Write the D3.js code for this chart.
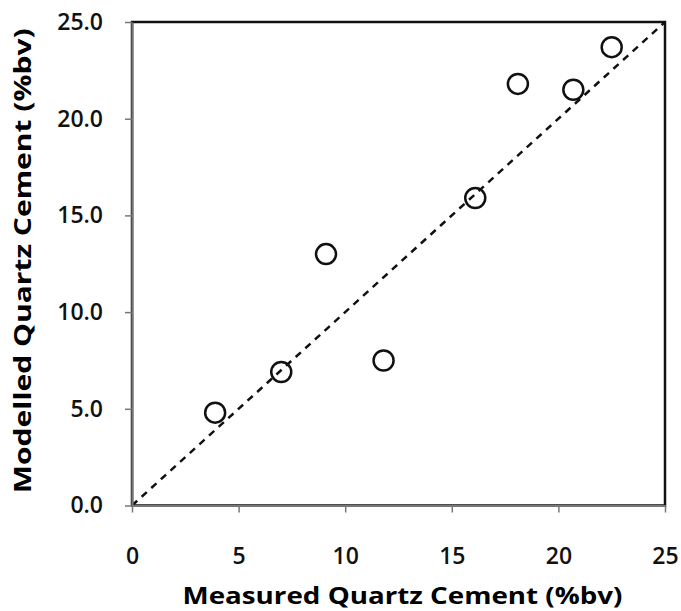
<!DOCTYPE html>
<html>
<head>
<meta charset="utf-8">
<script src="https://cdn.jsdelivr.net/npm/d3@7"></script>
<style>
  body { margin: 0; background: #fff; }
  svg { display: block; }
  .title { font-family: "Open Sans", sans-serif; font-weight: 700; font-size: 24px; fill: #000; }
</style>
</head>
<body>
<div id="chart"></div>
<script>
// measured vs modelled quartz cement, %bv
const measured = [3.9, 7.0, 9.1, 11.8, 16.1, 18.1, 20.7, 22.5];
const modelled = [4.8, 6.9, 13.0, 7.5, 15.9, 21.8, 21.5, 23.7];
const xTicks = [0, 5, 10, 15, 20, 25];
const yTicks = [0, 5, 10, 15, 20, 25];
const oneToOne = [0, 25];

const w = 681;
const h = 611;
const margin = { top: 22, right: 16, bottom: 105, left: 132 };

const svg = d3.select("#chart")
  .append("svg")
  .attr("width", w)
  .attr("height", h);

const xScale = d3.scaleLinear()
  .domain([0, 25])
  .range([margin.left, w - margin.right]);

const yScale = d3.scaleLinear()
  .domain([0, 25])
  .range([h - margin.bottom - 0.5, margin.top]);

// plot area frame (black, Excel style)
svg.append("rect")
  .attr("x", xScale(0))
  .attr("y", yScale(25))
  .attr("width", xScale(25) - xScale(0))
  .attr("height", yScale(0) - yScale(25))
  .attr("fill", "none")
  .attr("stroke", "#111")
  .attr("stroke-width", 2.5);

// 1:1 line
svg.append("line")
  .attr("x1", xScale(oneToOne[0]))
  .attr("y1", yScale(oneToOne[0]))
  .attr("x2", xScale(oneToOne[1]))
  .attr("y2", yScale(oneToOne[1]))
  .attr("stroke", "#111")
  .attr("stroke-width", 2.5)
  .attr("stroke-dasharray", "7,6");

const xAxis = d3.axisBottom(xScale).tickValues(xTicks).tickSize(7).tickSizeOuter(0).tickPadding(35)
  .tickFormat(d3.format("d"));
const yAxis = d3.axisLeft(yScale).tickValues(yTicks).tickSize(7).tickSizeOuter(0).tickPadding(22)
  .tickFormat(d3.format(".1f"));

const gx = svg.append("g")
  .attr("id", "x-axis")
  .attr("transform", `translate(0, ${yScale(0)})`)
  .call(xAxis);

const gy = svg.append("g")
  .attr("id", "y-axis")
  .attr("transform", `translate(${xScale(0)}, 0)`)
  .call(yAxis);

[gx, gy].forEach(function (g) {
  g.attr("font-size", null).attr("font-family", null);
  g.select(".domain").attr("stroke", "#777").attr("stroke-width", 2.2);
  g.selectAll(".tick line").attr("stroke", "#777").attr("stroke-width", 1.5);
  g.selectAll(".tick text")
    .attr("font-family", "'Open Sans', sans-serif")
    .attr("font-size", 23)
    .attr("font-weight", 600)
    .attr("fill", "#111");
});
gx.selectAll(".tick line").attr("y1", 0).attr("y2", 7);
gy.selectAll(".tick line").attr("x1", 0).attr("x2", -7);

svg.selectAll("circle.pt")
  .data(measured)
  .enter()
  .append("circle")
  .attr("class", "pt")
  .attr("cx", (d) => xScale(d))
  .attr("cy", (d, i) => yScale(modelled[i]))
  .attr("r", 10)
  .attr("fill", "none")
  .attr("stroke", "#111")
  .attr("stroke-width", 2.5);

svg.append("text")
  .attr("class", "title")
  .attr("x", (xScale(0) + xScale(25)) / 2 + 4)
  .attr("y", 604)
  .attr("text-anchor", "middle")
  .attr("textLength", 440)
  .attr("lengthAdjust", "spacingAndGlyphs")
  .text("Measured Quartz Cement (%bv)");

svg.append("text")
  .attr("class", "title")
  .attr("transform", `translate(31, ${(yScale(0) + yScale(25)) / 2 - 3}) rotate(-90)`)
  .attr("text-anchor", "middle")
  .attr("textLength", 465)
  .attr("lengthAdjust", "spacingAndGlyphs")
  .text("Modelled Quartz Cement (%bv)");
</script>
</body>
</html>
